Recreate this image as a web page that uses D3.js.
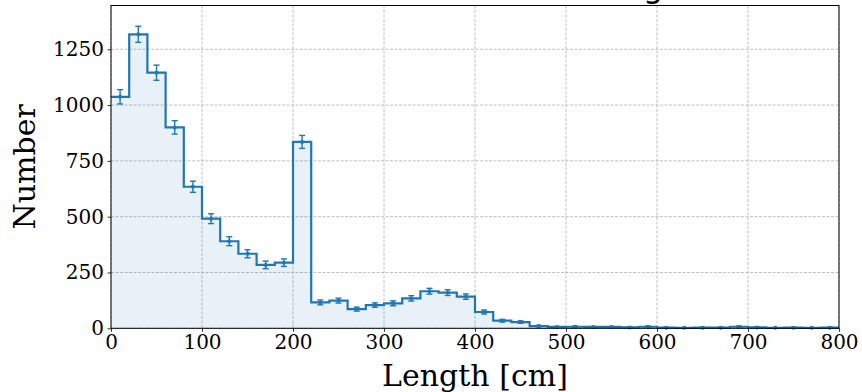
<!DOCTYPE html>
<html>
<head>
<meta charset="utf-8">
<script src="https://cdn.jsdelivr.net/npm/d3@7"></script>
<style>
  html, body { margin: 0; padding: 0; background: #fff; }
  svg { display: block; }
</style>
</head>
<body>
<svg id="chart" width="862" height="392"></svg>
<script>
// Histogram of lengths, 20 cm bins from 0 to 800 cm
const binStarts = [0, 20, 40, 60, 80, 100, 120, 140, 160, 180,
                   200, 220, 240, 260, 280, 300, 320, 340, 360, 380,
                   400, 420, 440, 460, 480, 500, 520, 540, 560, 580,
                   600, 620, 640, 660, 680, 700, 720, 740, 760, 780];
const binWidth = 20;
const counts = [1037, 1317, 1145, 900, 634, 491, 390, 334, 284, 294,
                835, 116, 124, 86, 104, 112, 134, 166, 160, 142,
                73, 34, 28, 10, 6, 7, 6, 6, 4, 7,
                3, 2, 3, 3, 7, 4, 2, 3, 2, 3];
// Poisson uncertainties per bin
const errors = [32, 36, 34, 30, 25, 22, 20, 18, 17, 17,
                29, 11, 11, 9, 10, 11, 12, 13, 13, 12,
                9, 6, 5, 3, 2, 3, 2, 2, 2, 3,
                2, 1, 2, 2, 3, 2, 1, 2, 1, 2];
const xTicks = [0, 100, 200, 300, 400, 500, 600, 700, 800];
const yTicks = [0, 250, 500, 750, 1000, 1250];

const titleText = "Distribution of Track Length";
const xLabel = "Length [cm]";
const yLabel = "Number";

(function draw() {
  const svg = d3.select("#chart");
  const pLeft = 111, pRight = 839, pTop = 5.5, pBottom = 328.3;
  const blue = "#1f77b4";
  const serif = "'DejaVu Serif', serif";

  const x = d3.scaleLinear().domain([0, 800]).range([pLeft, pRight]);
  const y = d3.scaleLinear().domain([0, 1446]).range([pBottom, pTop]);

  // title (sits mostly above the visible frame)
  svg.append("text")
    .attr("x", (pLeft + pRight) / 2)
    .attr("y", -3.5)
    .attr("text-anchor", "middle")
    .style("font-family", "'DejaVu Sans', sans-serif")
    .style("font-size", "32px")
    .attr("fill", "#000")
    .text(titleText);

  // grid
  const grid = svg.append("g")
    .attr("stroke", "#b0b0b0")
    .attr("stroke-width", 0.8)
    .attr("stroke-dasharray", "3,1.5");
  grid.selectAll("line.gx").data(xTicks).join("line")
    .attr("class", "gx")
    .attr("x1", d => x(d)).attr("x2", d => x(d))
    .attr("y1", pTop).attr("y2", pBottom);
  grid.selectAll("line.gy").data(yTicks).join("line")
    .attr("class", "gy")
    .attr("x1", pLeft).attr("x2", pRight)
    .attr("y1", d => y(d)).attr("y2", d => y(d));

  // step data: each bin's level held until the next edge
  const pts = binStarts.map((s, i) => [s, counts[i]]);
  pts.push([binStarts[binStarts.length - 1] + binWidth, counts[counts.length - 1]]);

  const area = d3.area()
    .x(d => x(d[0]))
    .y0(y(0))
    .y1(d => y(d[1]))
    .curve(d3.curveStepAfter);
  svg.append("path")
    .datum(pts)
    .attr("d", area)
    .attr("fill", blue)
    .attr("fill-opacity", 0.1);

  const line = d3.line()
    .x(d => x(d[0]))
    .y(d => y(d[1]))
    .curve(d3.curveStepAfter);
  svg.append("path")
    .datum(pts)
    .attr("d", line)
    .attr("fill", "none")
    .attr("stroke", blue)
    .attr("stroke-width", 2.2)
    .attr("stroke-linejoin", "miter");

  // error bars at bin centres
  const eb = svg.append("g").attr("stroke", blue).attr("stroke-width", 1.4);
  binStarts.forEach((s, i) => {
    const cx = x(s + binWidth / 2);
    const yl = y(counts[i] - errors[i]);
    const yh = y(counts[i] + errors[i]);
    eb.append("line").attr("x1", cx).attr("x2", cx).attr("y1", yl).attr("y2", yh);
    eb.append("line").attr("x1", cx - 3).attr("x2", cx + 3).attr("y1", yl).attr("y2", yl);
    eb.append("line").attr("x1", cx - 3).attr("x2", cx + 3).attr("y1", yh).attr("y2", yh);
  });
  svg.append("g").selectAll("circle").data(binStarts).join("circle")
    .attr("cx", s => x(s + binWidth / 2))
    .attr("cy", (s, i) => y(counts[i]))
    .attr("r", 2)
    .attr("fill", blue);

  // frame
  svg.append("rect")
    .attr("x", pLeft).attr("y", pTop)
    .attr("width", pRight - pLeft).attr("height", pBottom - pTop)
    .attr("fill", "none").attr("stroke", "#000").attr("stroke-width", 1);

  // axes
  const xAxis = d3.axisBottom(x).tickValues(xTicks).tickSize(3.5).tickPadding(3.5).tickFormat(d3.format("d"));
  const yAxis = d3.axisLeft(y).tickValues(yTicks).tickSize(3.5).tickPadding(3.5).tickFormat(d3.format("d"));

  const gx = svg.append("g").attr("transform", `translate(0,${pBottom})`).call(xAxis);
  const gy = svg.append("g").attr("transform", `translate(${pLeft},0)`).call(yAxis);
  [gx, gy].forEach(g => {
    g.select(".domain").remove();
    g.selectAll(".tick line").attr("stroke", "#000").attr("stroke-width", 0.8);
    g.selectAll(".tick text")
      .attr("fill", "#000")
      .style("font-family", serif)
      .style("font-size", "20px");
  });

  // axis labels
  svg.append("text")
    .attr("x", (pLeft + pRight) / 2)
    .attr("y", 386)
    .attr("text-anchor", "middle")
    .style("font-family", serif)
    .style("font-size", "30px")
    .attr("fill", "#000")
    .text(xLabel);

  svg.append("text")
    .attr("transform", `translate(35,${(pTop + pBottom) / 2}) rotate(-90)`)
    .attr("text-anchor", "middle")
    .style("font-family", serif)
    .style("font-size", "30px")
    .attr("fill", "#000")
    .text(yLabel);
})();
</script>
</body>
</html>
